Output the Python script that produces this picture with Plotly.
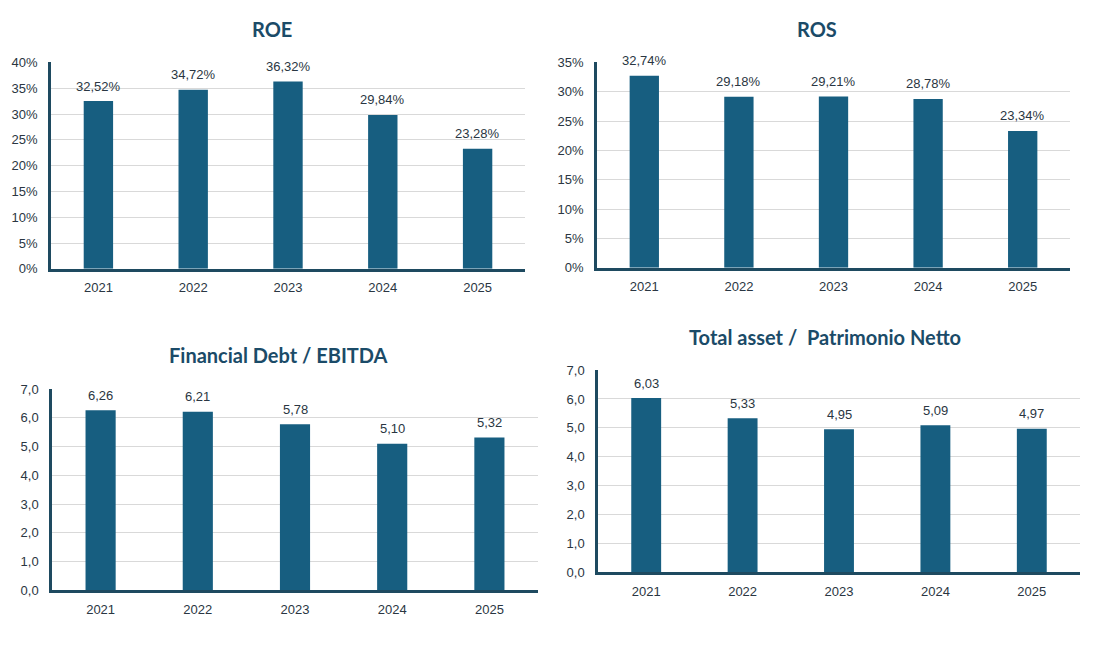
import plotly.graph_objects as go

years = ["2021", "2022", "2023", "2024", "2025"]
roe = [0.3252, 0.3472, 0.3632, 0.2984, 0.2328]
ros = [0.3274, 0.2918, 0.2921, 0.2878, 0.2334]
fd_ebitda = [6.26, 6.21, 5.78, 5.10, 5.32]
ta_pn = [6.03, 5.33, 4.95, 5.09, 4.97]

titles = ["ROE", "ROS", "Financial Debt / EBITDA", "Total asset /  Patrimonio Netto"]

W, H = 1100, 646
BAR = "#175e80"
AXIS = "#1e4a60"
TXT = "#2a3642"
TITLE = "#1b4b68"
FONT = "Liberation Sans, Arial, sans-serif"
TFONT = "Lato, Roboto, Noto Sans, sans-serif"


def px(x):
    return (x - 8) / W


def py(y):
    return 1 - ((y - 15.6) / 0.975) / H


# plot-area pixel boxes (as seen in target): left, right, top, bottom
boxes = [(51, 525, 63, 269), (597, 1070, 63, 268), (52, 538, 389, 590), (598, 1080, 370, 572)]
title_pos = [(272, 30), (817, 30), (278, 355), (825, 337)]

series = [roe, ros, fd_ebitda, ta_pn]
yranges = [[0, 0.40], [0, 0.35], [0, 7], [0, 7]]
dticks = [0.05, 0.05, 1, 1]
tickfmts = [".0%", ".0%", ".1f", ".1f"]
labfmts = [lambda v: f"{v*100:.2f}%".replace(".", ","),
           lambda v: f"{v*100:.2f}%".replace(".", ","),
           lambda v: f"{v:.2f}".replace(".", ","),
           lambda v: f"{v:.2f}".replace(".", ",")]

fig = go.Figure()
layout = {}
for i in range(4):
    n = "" if i == 0 else str(i + 1)
    l, r, t, b = boxes[i]
    fig.add_trace(go.Bar(
        x=years, y=series[i], xaxis="x" + n, yaxis="y" + n,
        marker=dict(color=BAR, line=dict(width=0)),
        width=0.31, showlegend=False, hoverinfo="skip",
    ))
    for j, v in enumerate(series[i]):
        fig.add_annotation(
            x=j, y=v, xref="x" + n, yref="y" + n,
            text=labfmts[i](v), showarrow=False,
            xanchor="center", yanchor="bottom", yshift=5.5,
            font=dict(family=FONT, size=13, color=TXT),
        )
    layout["xaxis" + n] = dict(
        type="category", range=[-0.5, 4.5],
        domain=[px(l), px(r)], anchor="y" + n,
        showline=True, linecolor=AXIS, linewidth=2.5,
        showgrid=False, ticks="", tickfont=dict(family=FONT, size=13, color=TXT),
        ticklabelstandoff=5, fixedrange=True,
    )
    layout["yaxis" + n] = dict(
        domain=[py(b), py(t)], anchor="x" + n,
        range=yranges[i], dtick=dticks[i], tick0=0, tickformat=tickfmts[i],
        showline=True, linecolor=AXIS, linewidth=2.5,
        showgrid=True, gridcolor="#d9d9d9", gridwidth=1,
        zeroline=False, ticks="", tickfont=dict(family=FONT, size=13, color=TXT),
        ticklabelstandoff=8, fixedrange=True,
    )
    fig.add_annotation(
        text="<b>" + titles[i] + "</b>", xref="paper", yref="paper",
        x=px(title_pos[i][0]), y=py(title_pos[i][1]),
        xanchor="center", yanchor="middle", showarrow=False,
        font=dict(family=TFONT, size=20, color=TITLE),
    )

fig.update_layout(
    width=W, height=H, margin=dict(l=0, r=0, t=0, b=0),
    paper_bgcolor="white", plot_bgcolor="white",
    separators=",.", bargap=0.69, **layout,
)
fig.write_html("out.html")
